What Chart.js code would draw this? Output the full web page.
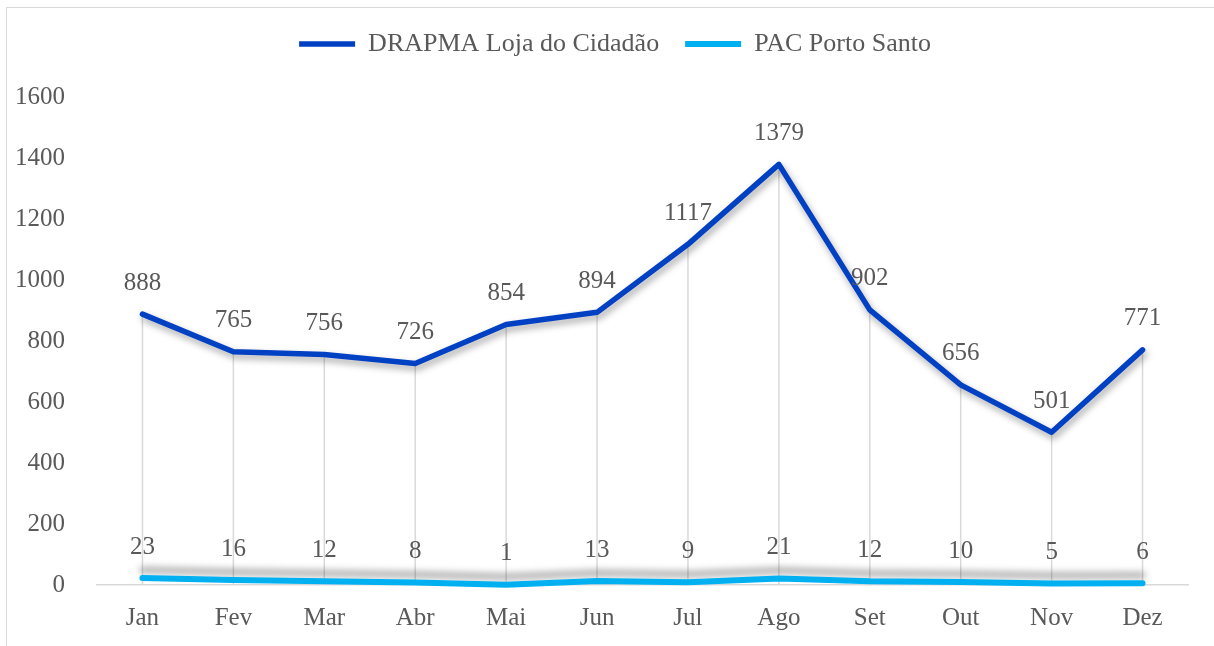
<!DOCTYPE html>
<html>
<head>
<meta charset="utf-8">
<script src="https://cdn.jsdelivr.net/npm/chart.js"></script>
<style>
html, body { margin: 0; padding: 0; background: #fff; }
#wrap { position: relative; width: 1214px; height: 646px; overflow: hidden; }
#frame { position: absolute; left: 6px; top: 7px; width: 1300px; height: 700px; border-left: 1.5px solid #d9d9d9; border-top: 1.5px solid #d9d9d9; }
#chart { position: absolute; left: 0; top: 0; }
</style>
</head>
<body>
<div id="wrap">
  <div id="frame"></div>
  <canvas id="chart" width="1214" height="646"></canvas>
</div>
<script>
const months = ['Jan', 'Fev', 'Mar', 'Abr', 'Mai', 'Jun', 'Jul', 'Ago', 'Set', 'Out', 'Nov', 'Dez'];
const lojaCidadao = [888, 765, 756, 726, 854, 894, 1117, 1379, 902, 656, 501, 771];
const portoSanto = [23, 16, 12, 8, 1, 13, 9, 21, 12, 10, 5, 6];
const yTicks = [0, 200, 400, 600, 800, 1000, 1200, 1400, 1600];

const FONT = "'Liberation Serif', serif";
const TXT = '#595959';
Chart.defaults.font.family = FONT;
Chart.defaults.color = TXT;

// thin grey lines from the top series down to the axis
const dropLines = {
    id: 'dropLines',
    beforeDatasetsDraw(chart) {
        const ctx = chart.ctx, bottom = chart.chartArea.bottom;
        ctx.save();
        ctx.strokeStyle = '#d9d9d9';
        ctx.lineWidth = 1.5;
        chart.getDatasetMeta(0).data.forEach(p => {
            ctx.beginPath();
            ctx.moveTo(p.x, p.y);
            ctx.lineTo(p.x, bottom);
            ctx.stroke();
        });
        ctx.restore();
    }
};

const lineShadow = {
    id: 'lineShadow',
    beforeDatasetDraw(chart, args) {
        const ctx = chart.ctx;
        ctx.save();
        ctx.shadowColor = 'rgba(0,0,0,0.35)';
        ctx.shadowBlur = 7;
        ctx.shadowOffsetX = args.index === 0 ? 2 : 0;
        ctx.shadowOffsetY = args.index === 0 ? 4 : -8;
    },
    afterDatasetDraw(chart) { chart.ctx.restore(); }
};

const valueLabels = {
    id: 'valueLabels',
    afterDatasetsDraw(chart) {
        const ctx = chart.ctx;
        ctx.save();
        ctx.font = '25px ' + FONT;
        ctx.fillStyle = TXT;
        ctx.textAlign = 'center';
        ctx.textBaseline = 'middle';
        chart.data.datasets.forEach((ds, i) => {
            chart.getDatasetMeta(i).data.forEach((p, j) => {
                ctx.fillText(String(ds.data[j]), p.x, p.y - 31);
            });
        });
        ctx.restore();
    }
};

// taller legend box so the plot starts lower, nudged a bit to the right
const legendTweak = {
    id: 'legendTweak',
    afterInit(chart) {
        const lg = chart.legend;
        if (!lg) return;
        const fit = lg.fit.bind(lg);
        lg.fit = function () { fit(); this.height = 92; };
    },
    afterLayout(chart) {
        if (!chart.legend) return;
        chart.legend.left += 21;
        chart.legend.right += 21;
    }
};

new Chart(document.getElementById('chart'), {
    type: 'line',
    data: {
        labels: months,
        datasets: [
            { label: 'DRAPMA Loja do Cidadão', data: lojaCidadao, borderColor: '#0041c4', backgroundColor: '#0041c4',
              borderWidth: 5.5, pointRadius: 0, tension: 0, borderCapStyle: 'round', borderJoinStyle: 'round', clip: false },
            { label: 'PAC Porto Santo', data: portoSanto, borderColor: '#00b0f0', backgroundColor: '#00b0f0',
              borderWidth: 6, pointRadius: 0, tension: 0, borderCapStyle: 'round', borderJoinStyle: 'round', clip: false }
        ]
    },
    options: {
        responsive: false,
        animation: false,
        events: [],
        layout: { padding: { top: 5, right: 26, bottom: 0, left: 0 } },
        plugins: {
            legend: {
                position: 'top',
                labels: {
                    usePointStyle: true, pointStyle: 'line', pointStyleWidth: 56,
                    padding: 26, color: TXT, font: { family: FONT, size: 26 }
                }
            },
            tooltip: { enabled: false }
        },
        scales: {
            x: {
                offset: true,
                grid: { display: false },
                border: { display: true, color: '#d9d9d9', width: 1.5 },
                ticks: { color: TXT, font: { family: FONT, size: 25 }, padding: 10 },
                afterFit(s) { s.height = 61; }
            },
            y: {
                min: 0, max: 1600,
                afterBuildTicks(s) { s.ticks = yTicks.map(v => ({ value: v })); },
                grid: { display: false },
                border: { display: false },
                ticks: { color: TXT, font: { family: FONT, size: 25 }, padding: 24, callback: v => String(v) },
                afterFit(s) { s.width = 97; }
            }
        }
    },
    plugins: [dropLines, lineShadow, valueLabels, legendTweak]
});
</script>
</body>
</html>
